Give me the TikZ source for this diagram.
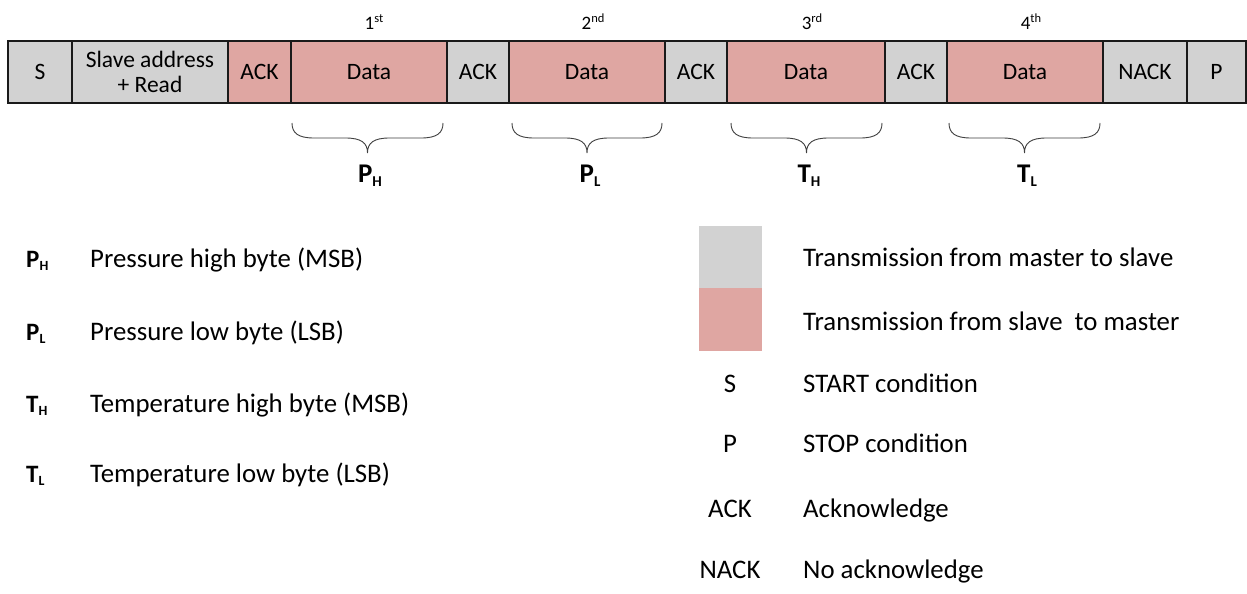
\documentclass[tikz,border=0pt]{standalone}
\usepackage{fontspec}
\setmainfont{Carlito}
\definecolor{mgray}{HTML}{D2D2D2}
\definecolor{spink}{HTML}{DFA6A2}
\definecolor{edge}{HTML}{1A1A1A}
\newcommand\sublabel[2]{{\fontsize{27}{27}\selectfont\bfseries #1}\raisebox{-4pt}{\fontsize{15}{15}\selectfont\bfseries #2}}
\newcommand\leglabel[2]{{\fontsize{25}{25}\selectfont\bfseries #1}\raisebox{-3.5pt}{\fontsize{14}{14}\selectfont\bfseries #2}}
\newcommand\ordlabel[2]{{\fontsize{19}{19}\selectfont #1}\raisebox{7.5pt}{\fontsize{12.5}{12.5}\selectfont #2}}
\newcommand\ubrace[2]{%
  \draw[bracestyle] (#1,123) .. controls (#1,133) and (#1+6,138) .. (#1+22,138)
    -- ({(#1+#2)/2-22},138) .. controls ({(#1+#2)/2-6},138) and ({(#1+#2)/2},143) .. ({(#1+#2)/2},153)
    .. controls ({(#1+#2)/2},143) and ({(#1+#2)/2+6},138) .. ({(#1+#2)/2+22},138)
    -- (#2-22,138) .. controls (#2-6,138) and (#2,133) .. (#2,123);}
\begin{document}
\begin{tikzpicture}[x=1pt,y=-1pt,
  cell/.style={draw=edge, line width=1.3pt, minimum height=62pt, anchor=north west,
    inner sep=0pt, outer sep=0pt, font=\fontsize{23.5}{25}\selectfont, align=center},
  ms/.style={cell, fill=mgray},
  sm/.style={cell, fill=spink},
  bracestyle/.style={draw=black!75, line width=0.9pt},
  legtext/.style={anchor=base west, inner sep=0pt, font=\fontsize{26.8}{26.8}\selectfont},
  legsym/.style={anchor=base, inner sep=0pt, font=\fontsize{26.8}{26.8}\selectfont},
  leftsym/.style={anchor=base west, inner sep=0pt},
  ord/.style={anchor=base, inner sep=0pt},
  blabel/.style={anchor=base, inner sep=0pt}]
\useasboundingbox (0,0) rectangle (1247,594);
\fill[white] (0,0) rectangle (1247,594);

% frame strip
\node[ms, minimum width=64]  (s)    at (8,41)    {S};
\node[ms, minimum width=156] (addr) at (72,41)   {Slave address\\+ Read};
\node[sm, minimum width=63]  (a0)   at (228,41)  {ACK};
\node[sm, minimum width=156] (d1)   at (291,41)  {Data};
\node[ms, minimum width=62]  (a1)   at (447,41)  {ACK};
\node[sm, minimum width=156] (d2)   at (509,41)  {Data};
\node[ms, minimum width=62]  (a2)   at (665,41)  {ACK};
\node[sm, minimum width=158] (d3)   at (727,41)  {Data};
\node[ms, minimum width=62]  (a3)   at (885,41)  {ACK};
\node[sm, minimum width=156] (d4)   at (947,41)  {Data};
\node[ms, minimum width=84]  (nack) at (1103,41) {NACK};
\node[ms, minimum width=59]  (p)    at (1187,41) {P};

% ordinal labels
\node[ord] (o1) at (374,30)  {\ordlabel{1}{st}};
\node[ord] (o2) at (593,30)  {\ordlabel{2}{nd}};
\node[ord] (o3) at (812,30)  {\ordlabel{3}{rd}};
\node[ord] (o4) at (1031,30) {\ordlabel{4}{th}};

% braces
\ubrace{292}{443}
\ubrace{512}{662}
\ubrace{731}{882}
\ubrace{949}{1100}
\node[blabel] (bph) at (370,182)  {\sublabel{P}{H}};
\node[blabel] (bpl) at (590,182)  {\sublabel{P}{L}};
\node[blabel] (bth) at (809,182)  {\sublabel{T}{H}};
\node[blabel] (btl) at (1027,182) {\sublabel{T}{L}};

% left legend
\node[leftsym] (lph) at (26,267) {\leglabel{P}{H}};
\node[leftsym] (lpl) at (26,340) {\leglabel{P}{L}};
\node[leftsym] (lth) at (26,412) {\leglabel{T}{H}};
\node[leftsym] (ltl) at (26,482) {\leglabel{T}{L}};
\node[legtext] (tph) at (90,267) {Pressure high byte (MSB)};
\node[legtext] (tpl) at (90,340) {Pressure low byte (LSB)};
\node[legtext] (tth) at (90,412) {Temperature high byte (MSB)};
\node[legtext] (ttl) at (90,482) {Temperature low byte (LSB)};

% right legend
\fill[mgray] (699,226) rectangle (762,288);
\fill[spink] (699,288) rectangle (762,351);
\node[legtext] (tms) at (803,266) {Transmission from master to slave};
\node[legtext] (tsm) at (803,330) {Transmission from slave\ \ to master};
\node[legsym] (ls)    at (730,392) {S};
\node[legsym] (lp)    at (730,452) {P};
\node[legsym] (lack)  at (730,517) {ACK};
\node[legsym] (lnack) at (730,578) {NACK};
\node[legtext] (ts)    at (803,392) {START condition};
\node[legtext] (tp)    at (803,452) {STOP condition};
\node[legtext] (tack)  at (803,517) {Acknowledge};
\node[legtext] (tnack) at (803,578) {No acknowledge};
\end{tikzpicture}
\end{document}
